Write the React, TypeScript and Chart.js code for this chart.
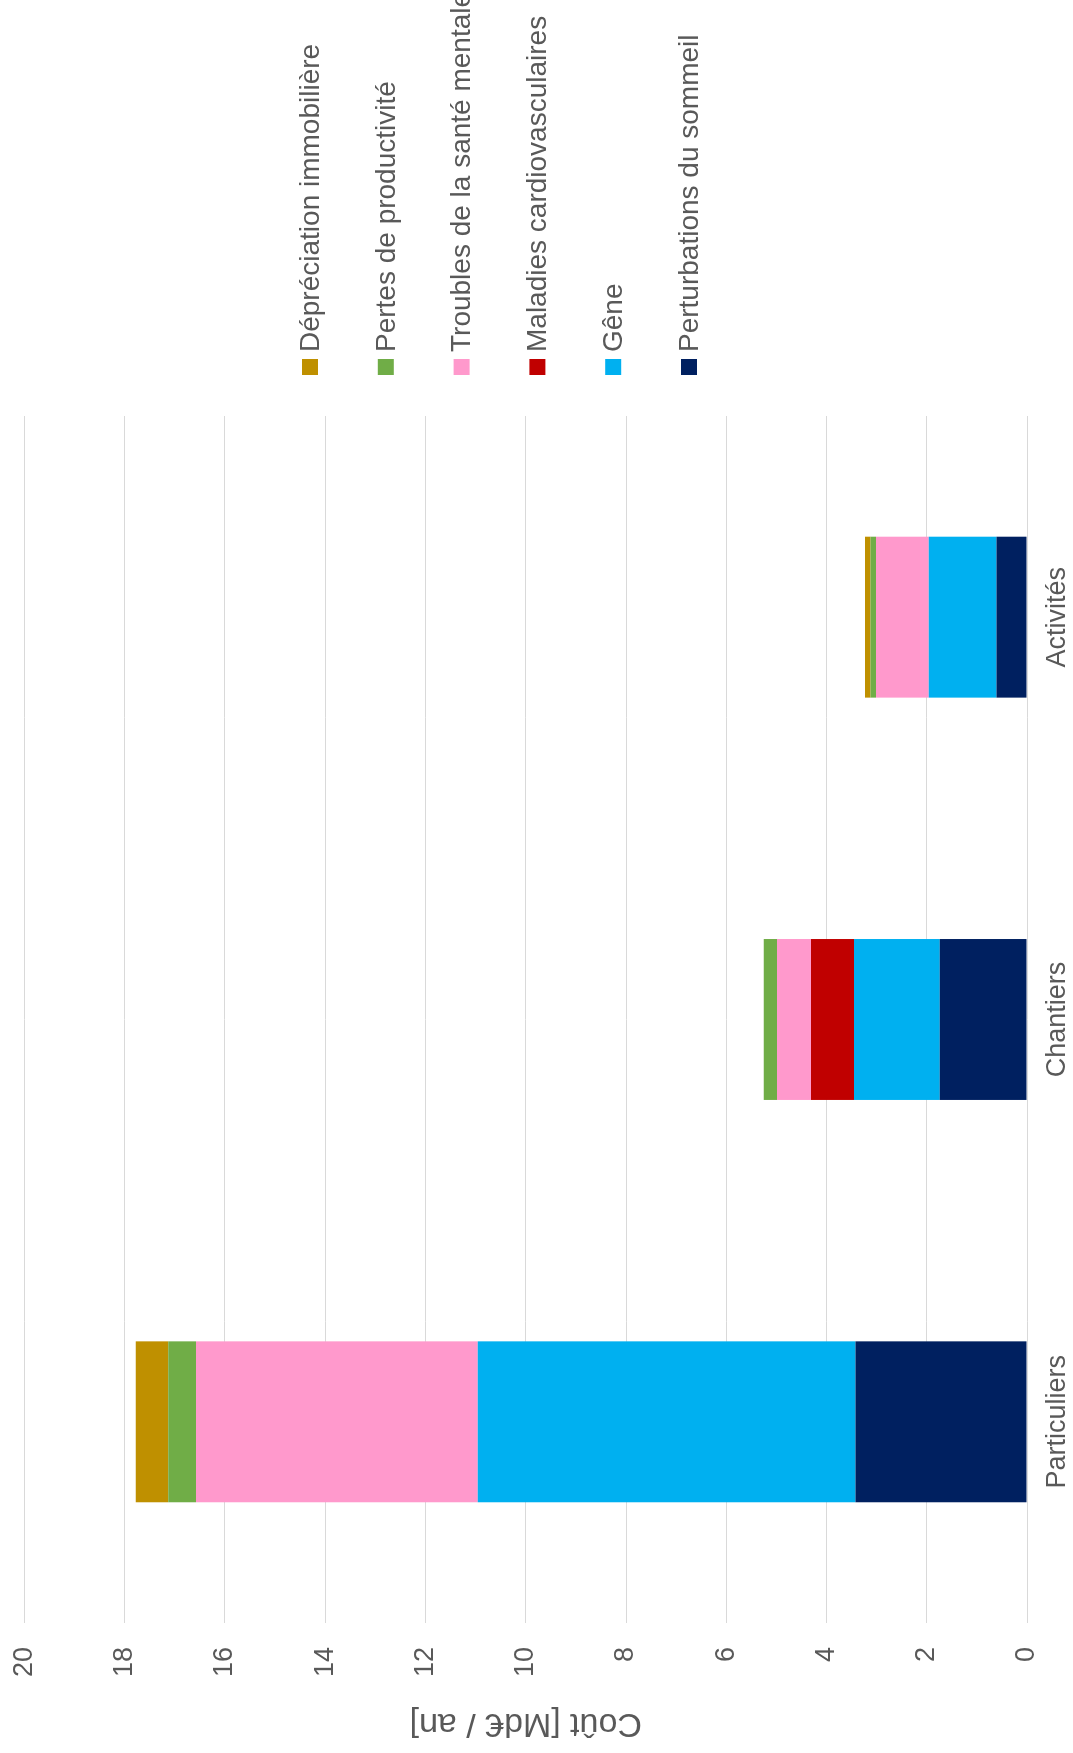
import React, { useEffect, useRef } from "react";
import { Chart, registerables } from "chart.js";

Chart.register(...registerables);

const categories = ["Particuliers", "Chantiers", "Activités"];

const sommeil = [3.42, 1.74, 0.61];
const gene = [7.54, 1.71, 1.35];
const cardio = [0, 0.86, 0];
const mentale = [5.62, 0.68, 1.05];
const productivite = [0.55, 0.26, 0.11];
const immobiliere = [0.65, 0, 0.11];

const seriesLabels = [
  "Perturbations du sommeil",
  "Gêne",
  "Maladies cardiovasculaires",
  "Troubles de la santé mentale",
  "Pertes de productivité",
  "Dépréciation immobilière",
];
const seriesColors = ["#002060", "#00B0F0", "#C00000", "#FF99CC", "#70AD47", "#BF9000"];
const seriesValues = [sommeil, gene, cardio, mentale, productivite, immobiliere];

const yTicks = [0, 2, 4, 6, 8, 10, 12, 14, 16, 18, 20];
const axisTitle = "Coût [Md€ / an]";

const FONT = '"Liberation Sans", Arial, sans-serif';
const TEXT = "#595959";

const sideLegend = {
  id: "sideLegend",
  afterDraw(chart: any) {
    const { ctx, chartArea } = chart;
    const items = chart.data.datasets
      .map((d: any) => ({ label: d.label, color: d.backgroundColor }))
      .reverse();
    ctx.save();
    ctx.font = `28px ${FONT}`;
    ctx.textBaseline = "middle";
    ctx.textAlign = "left";
    items.forEach((it: any, i: number) => {
      const cy = 310 + i * 75.8;
      ctx.fillStyle = it.color;
      ctx.fillRect(chartArea.right + 41, cy - 8, 16, 16);
      ctx.fillStyle = TEXT;
      ctx.fillText(it.label, chartArea.right + 64, cy + 1);
    });
    ctx.restore();
  },
};

export default function App() {
  const ref = useRef<HTMLCanvasElement | null>(null);

  useEffect(() => {
    document.body.style.margin = "0";
    document.body.style.overflow = "hidden";
    const canvas = ref.current;
    if (!canvas) return;
    const chart = new Chart(canvas, {
      type: "bar",
      data: {
        labels: categories,
        datasets: seriesLabels.map((label, i) => ({
          label,
          data: seriesValues[i],
          backgroundColor: seriesColors[i],
          borderWidth: 0,
          categoryPercentage: 1,
          barPercentage: 0.4,
        })),
      },
      options: {
        animation: false,
        responsive: false,
        devicePixelRatio: 1,
        layout: { padding: { top: 24.5, right: 416, bottom: 2, left: 0 } },
        plugins: {
          legend: { display: false },
          tooltip: { enabled: false },
        },
        scales: {
          x: {
            stacked: true,
            grid: { display: false, drawTicks: true, tickLength: 17 },
            border: { display: false },
            ticks: {
              color: TEXT,
              padding: 0,
              font: { family: FONT, size: 27, lineHeight: 1 },
            },
          },
          y: {
            stacked: true,
            min: 0,
            max: 20,
            afterBuildTicks: (scale: any) => {
              scale.ticks = yTicks.map((v) => ({ value: v }));
            },
            grid: {
              color: "#D9D9D9",
              lineWidth: 1,
              drawTicks: true,
              tickLength: 24,
              tickColor: "rgba(0,0,0,0)",
            },
            border: { display: false },
            ticks: {
              color: TEXT,
              padding: 0,
              font: { family: FONT, size: 27 },
            },
            title: {
              display: true,
              text: axisTitle,
              color: TEXT,
              font: { family: FONT, size: 34 },
              padding: { top: 9.6, bottom: 25.6 },
            },
          },
        },
      },
      plugins: [sideLegend],
    });
    return () => chart.destroy();
  }, []);

  return (
    <div
      style={{
        position: "absolute",
        left: 0,
        top: 0,
        width: 1753,
        height: 1073,
        transformOrigin: "0 0",
        transform: "translateY(1753px) rotate(-90deg)",
        background: "#fff",
      }}
    >
      <canvas ref={ref} width={1753} height={1073} style={{ display: "block" }} />
    </div>
  );
}
